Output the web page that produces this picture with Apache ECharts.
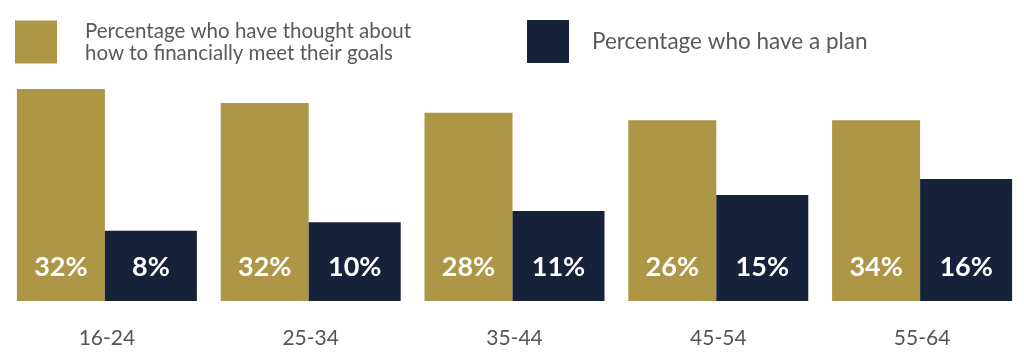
<!DOCTYPE html>
<html>
<head>
<meta charset="utf-8">
<script src="https://cdn.jsdelivr.net/npm/echarts@6/dist/echarts.min.js"></script>
<style>
html,body{margin:0;padding:0;background:#fff;}
#chart{width:1024px;height:356px;}
</style>
</head>
<body>
<div id="chart"></div>
<script>
// Age groups
const categories = ['16-24', '25-34', '35-44', '45-54', '55-64'];
// Printed percentages (labels shown in the bars)
const thoughtLabels = [32, 32, 28, 26, 34];
const planLabels = [8, 10, 11, 15, 16];
// Bar heights as drawn in the picture (the source's bars are not to scale with their labels)
const thoughtHeights = [32, 29.9, 28.4, 27.3, 27.3];
const planHeights = [10.6, 11.9, 13.6, 16.0, 18.4];
const seriesNames = ['Percentage who have thought about\nhow to financially meet their goals', 'Percentage who have a plan'];

const gold = '#ad9646';
const navy = '#15223a';
const font = 'Lato';

const chart = echarts.init(document.getElementById('chart'));
const valueLabel = (labels) => ({
  show: true,
  position: 'insideBottom',
  distance: 20,
  color: '#ffffff',
  fontFamily: font,
  fontWeight: 'bold',
  fontSize: 27,
  formatter: (p) => labels[p.dataIndex] + '%'
});
chart.setOption({
  animation: false,
  backgroundColor: '#ffffff',
  legend: [
    {
      data: [seriesNames[0]], left: 10, top: 15, itemWidth: 42, itemHeight: 43,
      icon: 'rect', selectedMode: false,
      textStyle: { color: '#595959', fontFamily: font, fontSize: 20.5, lineHeight: 22, padding: [0, 0, 0, 23] }
    },
    {
      data: [seriesNames[1]], left: 522, top: 15, itemWidth: 42, itemHeight: 43,
      icon: 'rect', selectedMode: false,
      textStyle: { color: '#595959', fontFamily: font, fontSize: 22.5, padding: [4, 0, 0, 18] }
    }
  ],
  grid: { left: 5, right: 0, top: 89, bottom: 55 },
  xAxis: {
    type: 'category',
    data: categories,
    axisLine: { show: false },
    axisTick: { show: false },
    axisLabel: { color: '#555555', fontFamily: font, fontSize: 21, margin: 27 }
  },
  yAxis: {
    type: 'value', min: 0, max: 32,
    show: false,
    splitLine: { show: false }
  },
  series: [
    {
      name: seriesNames[0], type: 'bar', data: thoughtHeights,
      itemStyle: { color: gold }, barWidth: 88, barGap: '0%',
      label: valueLabel(thoughtLabels)
    },
    {
      name: seriesNames[1], type: 'bar', data: planHeights,
      itemStyle: { color: navy }, barWidth: 92, barGap: '0%',
      label: valueLabel(planLabels)
    }
  ]
});
</script>
</body>
</html>
